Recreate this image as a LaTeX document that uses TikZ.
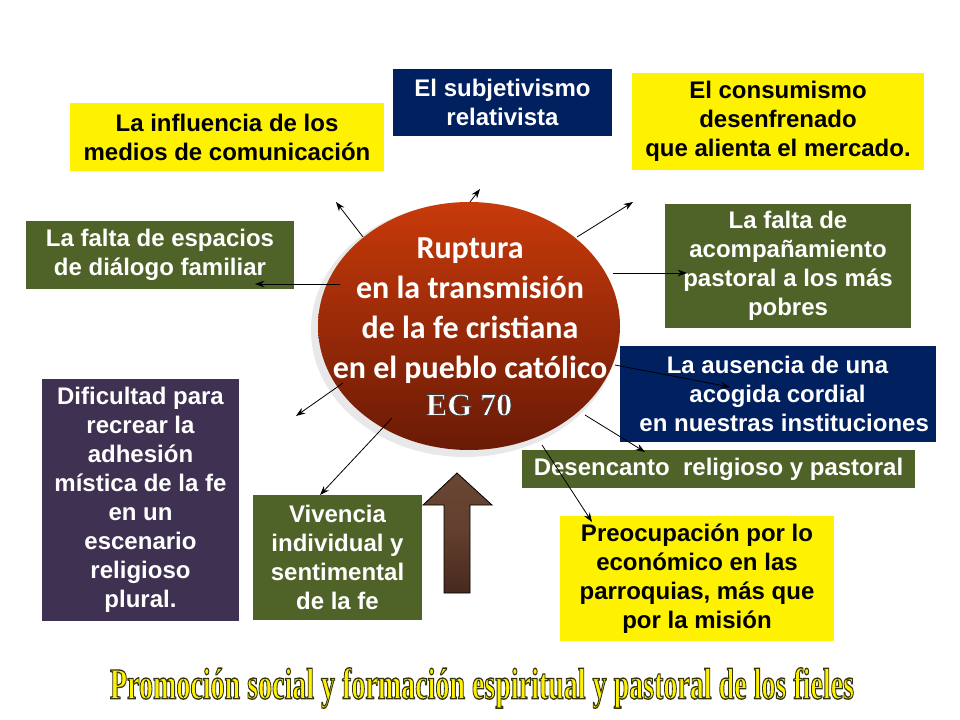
\documentclass[tikz,border=0pt]{standalone}
\usepackage{fontspec}
\setmainfont{Liberation Sans}
\newfontfamily\calib{Carlito}
\newfontfamily\timesf{Liberation Serif}
\usetikzlibrary{arrows.meta,shapes.geometric}
\definecolor{navyc}{HTML}{002060}
\definecolor{greenc}{HTML}{4F6228}
\definecolor{purplec}{HTML}{3F3151}
\definecolor{ellTop}{HTML}{C83A0A}
\definecolor{ellBot}{HTML}{6A1A06}
\definecolor{arTop}{HTML}{6A4634}
\definecolor{arBot}{HTML}{47291D}
\newcommand\bottomtxt{\resizebox{558pt}{\height}{\color{yellow}\timesf\bfseries\fontsize{33}{33}\selectfont\special{pdf:literal direct 2 Tr 1.0 w 0.2 0.2 0.05 RG}Promoción social y formación espiritual y pastoral de los fieles\special{pdf:literal direct 0 Tr}}}
\tikzset{
  boxbase/.style={rectangle, inner sep=0pt, align=center, font=\bfseries\fontsize{18}{21.75}\selectfont},
  ybox/.style={boxbase, fill=yellow, text=black},
  nbox/.style={boxbase, fill=navyc, text=white},
  gbox/.style={boxbase, fill=greenc, text=white},
  pbox/.style={boxbase, fill=purplec, text=white},
  arr/.style={-{Stealth[length=7pt,width=5pt]}, line width=0.6pt, black},
}
\begin{document}
\begin{tikzpicture}[x=0.75pt,y=-0.75pt]
\useasboundingbox (0,0) rectangle (960,720);
\fill[white] (0,0) rectangle (960,720);

% central ellipse with shadow
\fill[gray!18] (465,330) ellipse [x radius=154, y radius=127];
\node[ellipse, minimum width=302*0.75pt, minimum height=248*0.75pt, inner sep=0pt,
      top color=ellTop, bottom color=ellBot] (ell) at (469,326) {};
\node[align=center, text=white, font=\calib\bfseries\fontsize{24}{30}\selectfont] (ellt) at (470,310.5)
  {Ruptura\\en la transmisión\\de la fe cristiana\\en el pueblo católico};
\node[text=white, font=\timesf\bfseries\fontsize{24}{24}\selectfont] (eg) at (469,405)
  {\special{pdf:literal direct 2 Tr 0.5 w 0.25 0.25 0.25 RG}EG 70\special{pdf:literal direct 0 Tr}};

% boxes
\node[ybox, minimum width=235.5pt, minimum height=51pt] (b1) at (227,137)
  {La influencia de los\\medios de comunicación};
\node[nbox, minimum width=164.25pt, minimum height=50.25pt] (b2) at (502.5,102.5)
  {El subjetivismo\\relativista};
\node[ybox, minimum width=219pt, minimum height=72.75pt] (b3) at (778,121.5)
  {El consumismo\\desenfrenado\\que alienta el mercado.};
\node[gbox, minimum width=201pt, minimum height=51pt] (b4) at (160,255)
  {La falta de espacios\\de diálogo familiar};
\node[gbox, minimum width=184.5pt, minimum height=93pt] (b5) at (788,266)
  {La falta de\\acompañamiento\\pastoral a los más\\pobres};
\node[nbox, minimum width=237pt, minimum height=72pt] (b6) at (777.5,394)
  {La ausencia de una\\acogida cordial\\\ \ en nuestras instituciones};
\node[gbox, minimum width=294.75pt, minimum height=28.5pt] (b7) at (718.5,469)
  {Desencanto\ \ religioso y pastoral};
\node[pbox, minimum width=147.75pt, minimum height=181.5pt] (b8) at (140.5,500)
  {Dificultad para\\recrear la\\adhesión\\mística de la fe\\en un\\escenario\\religioso\\plural.};
\node[gbox, minimum width=126.75pt, minimum height=93.75pt] (b9) at (337.5,557.5)
  {Vivencia\\individual y\\sentimental\\de la fe};
\node[ybox, minimum width=205.5pt, minimum height=93.75pt] (b10) at (697,578.5)
  {Preocupación por lo\\económico en las\\parroquias, más que\\por la misión};

% big upward arrow
\draw[line width=0.6pt, top color=arTop, bottom color=arBot, middle color=arTop!75!arBot]
  (444,593) -- (444,505) -- (423,505) -- (457,473) -- (492,505) -- (470,505) -- (470,593) -- cycle;

% connectors
\coordinate (s1) at (363,237); \coordinate (e1) at (336,202);
\coordinate (s2) at (470,202); \coordinate (e2) at (480,189);
\coordinate (s3) at (577,237); \coordinate (e3) at (633,202);
\coordinate (s4) at (340,284); \coordinate (e4) at (255,284);
\coordinate (s5) at (613,273); \coordinate (e5) at (687,273);
\coordinate (s6) at (615,365); \coordinate (e6) at (730,387);
\coordinate (s7) at (585,415); \coordinate (e7) at (645,452);
\coordinate (s8) at (542,445); \coordinate (e8) at (592,522);
\coordinate (s9) at (343,383); \coordinate (e9) at (296,416);
\coordinate (s10) at (392,418); \coordinate (e10) at (320,495);
\foreach \i in {1,...,10} \draw[arr] (s\i) -- (e\i);

% bottom outlined title
\node[inner sep=0pt] (title) at (482,688) {\bottomtxt};
\end{tikzpicture}
\end{document}
